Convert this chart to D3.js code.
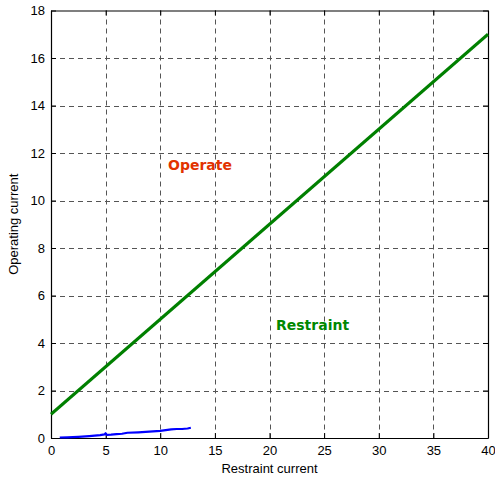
<!DOCTYPE html>
<html>
<head>
<meta charset="utf-8">
<script src="https://cdn.jsdelivr.net/npm/d3@7"></script>
<style>
body { margin: 0; background: #fff; }
</style>
</head>
<body>
<svg id="chart" width="495" height="483" font-family="Liberation Sans, Arial, sans-serif"></svg>
<script>
// characteristic line (restraint boundary)
var slopeX = [0, 40];
var slopeY = [1, 17];

// measured operating point trace
var traceX = [0.8, 1.5, 2.5, 3.5, 4, 4.5, 4.9, 5, 5.1, 5.5, 6, 6.5, 7, 8, 9, 10, 10.5, 11, 11.5, 12, 12.5, 12.8];
var traceY = [0.02, 0.03, 0.05, 0.08, 0.1, 0.12, 0.15, 0.2, 0.13, 0.14, 0.16, 0.18, 0.22, 0.24, 0.27, 0.3, 0.33, 0.36, 0.38, 0.38, 0.4, 0.43];

var xTicks = [0, 5, 10, 15, 20, 25, 30, 35, 40];
var yTicks = [0, 2, 4, 6, 8, 10, 12, 14, 16, 18];

var pLeft = 51, pRight = 488, pTop = 10.5, pBottom = 438;

var svg = d3.select("#chart");

var x = d3.scaleLinear().domain([0, 40]).range([pLeft, pRight]);
var y = d3.scaleLinear().domain([0, 18]).range([pBottom, pTop]);

// grid
var grid = svg.append("g")
    .attr("stroke", "#555")
    .attr("stroke-width", 1)
    .attr("stroke-dasharray", "5,4");
grid.selectAll(".vx").data(xTicks.slice(1, -1)).enter().append("line")
    .attr("x1", d => Math.round(x(d)) + 0.5).attr("x2", d => Math.round(x(d)) + 0.5)
    .attr("y1", pTop).attr("y2", pBottom);
grid.selectAll(".hy").data(yTicks.slice(1, -1)).enter().append("line")
    .attr("y1", d => Math.round(y(d)) + 0.5).attr("y2", d => Math.round(y(d)) + 0.5)
    .attr("x1", pLeft).attr("x2", pRight);

// axes, ticks inside like matlab
var xAxis = d3.axisBottom(x).tickValues(xTicks).tickSizeInner(-5).tickSizeOuter(0).tickPadding(8);
var yAxis = d3.axisLeft(y).tickValues(yTicks).tickSizeInner(-5).tickSizeOuter(0).tickPadding(8);

var gx = svg.append("g").attr("transform", "translate(0," + pBottom + ")").call(xAxis);
var gy = svg.append("g").attr("transform", "translate(" + pLeft + ",0)").call(yAxis);
svg.append("g").attr("transform", "translate(0," + pTop + ")")
    .call(d3.axisTop(x).tickValues(xTicks).tickSizeInner(-5).tickSizeOuter(0).tickFormat(""));
svg.append("g").attr("transform", "translate(" + pRight + ",0)")
    .call(d3.axisRight(y).tickValues(yTicks).tickSizeInner(-5).tickSizeOuter(0).tickFormat(""));

svg.selectAll(".domain").attr("stroke", "#000").attr("stroke-width", 1.2);
svg.selectAll(".tick line").attr("stroke", "#000");
svg.selectAll(".tick text").attr("font-size", 13).attr("fill", "#000")
    .attr("font-family", "Liberation Sans, Arial, sans-serif");
gy.selectAll(".tick text").attr("dx", 2);

// lines
var line = d3.line().x(d => x(d[0])).y(d => y(d[1]));
svg.append("path")
    .datum(d3.zip(slopeX, slopeY))
    .attr("d", line)
    .attr("fill", "none")
    .attr("stroke", "#008000")
    .attr("stroke-width", 3);

svg.append("path")
    .datum(d3.zip(traceX, traceY))
    .attr("d", line)
    .attr("fill", "none")
    .attr("stroke", "#0000ff")
    .attr("stroke-width", 2.2)
    .attr("stroke-linejoin", "round");

// region labels
svg.append("text").attr("x", 168).attr("y", 170)
    .attr("font-family", "DejaVu Sans, sans-serif")
    .attr("font-weight", "bold").attr("font-size", 14)
    .attr("fill", "#e23200").text("Operate");
svg.append("text").attr("x", 276).attr("y", 329.5)
    .attr("font-family", "DejaVu Sans, sans-serif")
    .attr("font-weight", "bold").attr("font-size", 14)
    .attr("fill", "#008800").text("Restraint");

// axis titles
svg.append("text").attr("x", (pLeft + pRight) / 2).attr("y", 473)
    .attr("text-anchor", "middle").attr("font-size", 13).text("Restraint current");
svg.append("text")
    .attr("transform", "translate(18," + (pTop + pBottom) / 2 + ") rotate(-90)")
    .attr("text-anchor", "middle").attr("font-size", 13).text("Operating current");
</script>
</body>
</html>
